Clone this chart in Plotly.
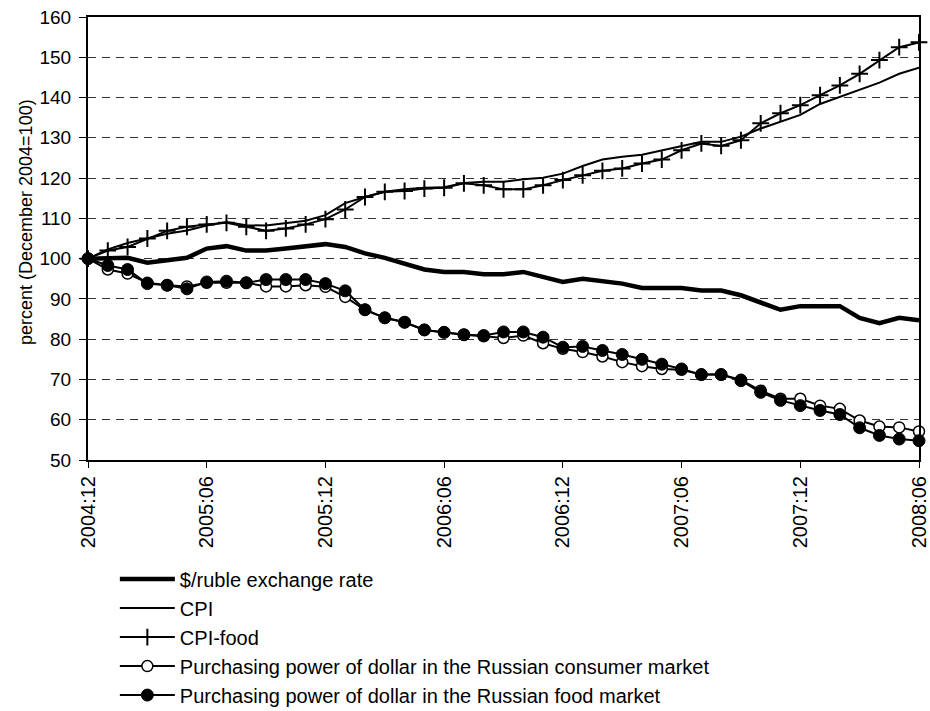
import plotly.graph_objects as go

months = []
for yr in range(2004, 2009):
    for m in range(1, 13):
        if (yr == 2004 and m < 12) or (yr == 2008 and m > 6):
            continue
        months.append(f"{yr}:{m:02d}")

tick_labels = ["2004:12", "2005:06", "2005:12", "2006:06", "2006:12", "2007:06", "2007:12", "2008:06"]

exchange_rate = [100, 100.2, 100.2, 99.0, 99.5, 100.2, 102.5, 103.1, 102.0, 102.0, 102.5,
                 103.1, 103.6, 102.9, 101.3, 100.2, 98.8, 97.3, 96.7, 96.7, 96.1, 96.1,
                 96.7, 95.4, 94.2, 95.0, 94.4, 93.8, 92.7, 92.7, 92.7, 92.1, 92.1, 90.9,
                 89.2, 87.3, 88.2, 88.2, 88.2, 85.3, 84.0, 85.3, 84.7]
cpi = [100, 102.3, 103.9, 105.0, 106.2, 107.0, 108.2, 109.1, 108.3, 108.2, 108.8,
       109.4, 110.8, 113.8, 115.3, 116.6, 117.2, 117.6, 117.7, 118.8, 119.1, 119.1,
       119.7, 120.1, 121.1, 123.0, 124.6, 125.3, 125.8, 126.9, 127.9, 129.0, 129.0,
       130.3, 132.3, 134.0, 135.7, 138.4, 140.2, 141.9, 143.7, 145.9, 147.4]
cpi_food = [100, 102.0, 102.9, 105.0, 106.9, 107.9, 108.5, 108.9, 107.9, 106.9, 107.5,
            108.5, 109.8, 112.2, 115.3, 116.6, 116.8, 117.4, 117.6, 118.7, 118.2, 117.2,
            117.2, 118.2, 119.5, 120.7, 121.8, 122.4, 123.6, 124.6, 126.9, 128.6, 128.0,
            129.4, 133.6, 136.1, 138.1, 140.6, 143.0, 145.9, 149.3, 152.5, 153.7]
pp_consumer = [100, 97.3, 96.3, 94.0, 93.4, 93.1, 94.0, 94.0, 94.0, 93.1, 93.1,
               93.4, 93.0, 90.5, 87.3, 85.3, 84.2, 82.3, 81.7, 81.1, 80.7, 80.3,
               80.9, 79.0, 77.6, 76.8, 75.7, 74.3, 73.3, 72.6, 72.4, 71.2, 71.2,
               69.9, 67.2, 65.2, 65.2, 63.5, 62.7, 59.8, 58.3, 58.1, 57.1]
pp_food = [100, 98.3, 97.3, 93.8, 93.4, 92.5, 94.2, 94.4, 94.0, 94.8, 94.8,
           94.8, 93.8, 92.0, 87.3, 85.3, 84.2, 82.3, 81.7, 81.1, 80.9, 81.8,
           81.8, 80.5, 78.0, 78.2, 77.2, 76.2, 75.0, 73.8, 72.6, 71.2, 71.2,
           69.7, 66.8, 64.8, 63.5, 62.3, 61.3, 58.0, 56.1, 55.2, 54.8]

FONT = "Arial, Liberation Sans, sans-serif"

fig = go.Figure()
fig.add_trace(go.Scatter(x=months, y=exchange_rate, mode="lines", name="$/ruble exchange rate",
                         line=dict(color="black", width=4.5), cliponaxis=False))
fig.add_trace(go.Scatter(x=months, y=cpi, mode="lines", name="CPI",
                         line=dict(color="black", width=2), cliponaxis=False))
fig.add_trace(go.Scatter(x=months, y=cpi_food, mode="lines+markers", name="CPI-food",
                         line=dict(color="black", width=2),
                         marker=dict(symbol="cross-thin-open", size=12,
                                     line=dict(color="black", width=2)),
                         cliponaxis=False))
fig.add_trace(go.Scatter(x=months, y=pp_consumer, mode="lines+markers",
                         name="Purchasing power of dollar in the Russian consumer market",
                         line=dict(color="black", width=2),
                         marker=dict(symbol="circle", size=11, color="white",
                                     line=dict(color="black", width=1.5)),
                         cliponaxis=False))
fig.add_trace(go.Scatter(x=months, y=pp_food, mode="lines+markers",
                         name="Purchasing power of dollar in the Russian food market",
                         line=dict(color="black", width=2),
                         marker=dict(symbol="circle", size=12, color="black",
                                     line=dict(color="black", width=1)),
                         cliponaxis=False))

fig.update_layout(
    width=930, height=711,
    margin=dict(l=88, r=11, t=17, b=251, autoexpand=False),
    paper_bgcolor="white", plot_bgcolor="white",
    font=dict(family=FONT, color="black", size=18),
    showlegend=True,
    legend=dict(xref="container", yref="container", x=0.1235, y=0.213,
                xanchor="left", yanchor="top", font=dict(size=20, family=FONT),
                bgcolor="rgba(0,0,0,0)", itemwidth=55, tracegroupgap=0,
                traceorder="normal"),
    xaxis=dict(type="category", range=[0, len(months) - 1],
               tickvals=tick_labels, ticktext=tick_labels, tickangle=-90,
               tickfont=dict(size=20, family=FONT),
               ticks="outside", ticklen=6, tickwidth=1, tickcolor="black",
               showline=True, linecolor="black", linewidth=2, mirror=True,
               showgrid=False, zeroline=False, automargin=False),
    yaxis=dict(range=[50, 160], tickvals=list(range(50, 161, 10)),
               tickfont=dict(size=19, family=FONT), ticklabelstandoff=4,
               ticks="outside", ticklen=7, tickwidth=1, tickcolor="black",
               showline=True, linecolor="black", linewidth=2, mirror=True,
               showgrid=True, gridcolor="#333333", gridwidth=1, griddash="8px,6px",
               zeroline=False, automargin=False),
    annotations=[dict(text="percent (December 2004=100)", xref="paper", yref="paper",
                      x=-62 / 831, y=1 - (222 - 17) / 443, xanchor="center", yanchor="middle",
                      textangle=-90, showarrow=False, font=dict(size=18, family=FONT))],
)

fig.write_html("out.html", config={"displayModeBar": False},
               post_script="document.body.style.margin='0';")
